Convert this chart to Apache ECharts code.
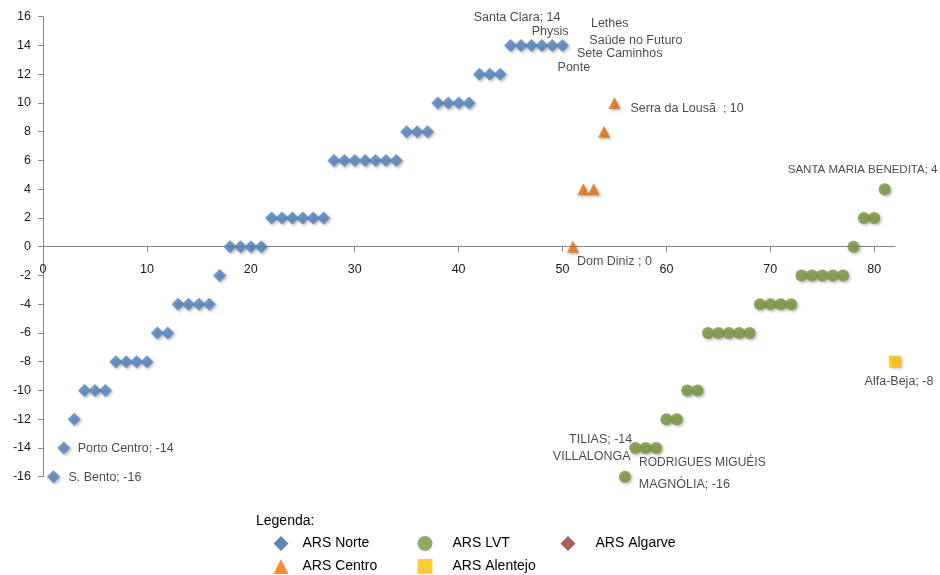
<!DOCTYPE html>
<html>
<head>
<meta charset="utf-8">
<script src="https://cdn.jsdelivr.net/npm/echarts@6/dist/echarts.min.js"></script>
<style>
  html, body { margin: 0; padding: 0; background: #ffffff; }
  #chart { width: 940px; height: 575px; }
</style>
</head>
<body>
<div id="chart"></div>
<script>
// ---- data: rank (x) and score (y) per ARS ----
const norteRank = [1,2,3,4,5,6,7,8,9,10,11,12,13,14,15,16,17,18,19,20,21,22,23,24,25,26,27,28,29,30,31,32,33,34,35,36,37,38,39,40,41,42,43,44,45,46,47,48,49,50];
const norteValues = [-16,-14,-12,-10,-10,-10,-8,-8,-8,-8,-6,-6,-4,-4,-4,-4,-2,0,0,0,0,2,2,2,2,2,2,6,6,6,6,6,6,6,8,8,8,10,10,10,10,12,12,12,14,14,14,14,14,14];

const centroRank = [51,52,53,54,55];
const centroValues = [0,4,4,8,10];

const lvtRank = [56,57,58,59,60,61,62,63,64,65,66,67,68,69,70,71,72,73,74,75,76,77,78,79,80,81];
const lvtValues = [-16,-14,-14,-14,-12,-12,-10,-10,-6,-6,-6,-6,-6,-4,-4,-4,-4,-2,-2,-2,-2,-2,0,2,2,4];

const alentejoRank = [82];
const alentejoValues = [-8];

const algarveRank = [];
const algarveValues = [];

const seriesNames = ['ARS Norte', 'ARS LVT', 'ARS Algarve', 'ARS Centro', 'ARS Alentejo'];

const xTicks = [0,10,20,30,40,50,60,70,80];
const yTicks = [-16,-14,-12,-10,-8,-6,-4,-2,0,2,4,6,8,10,12,14,16];

// named units shown next to their marks: [series, rank, text]
const unitLabels = [
  ['ARS Norte', 1, 'S. Bento; -16'],
  ['ARS Norte', 2, 'Porto Centro; -14'],
  ['ARS Norte', 45, 'Ponte'],
  ['ARS Norte', 46, 'Sete Caminhos'],
  ['ARS Norte', 47, 'Saúde no Futuro'],
  ['ARS Norte', 48, 'Lethes'],
  ['ARS Norte', 49, 'Physis'],
  ['ARS Norte', 50, 'Santa Clara; 14'],
  ['ARS Centro', 51, 'Dom Diniz ; 0'],
  ['ARS Centro', 55, 'Serra da Lousã  ; 10'],
  ['ARS LVT', 56, 'MAGNÓLIA; -16'],
  ['ARS LVT', 57, 'TILIAS; -14'],
  ['ARS LVT', 58, 'VILLALONGA'],
  ['ARS LVT', 59, 'RODRIGUES MIGUÉIS'],
  ['ARS LVT', 81, 'SANTA MARIA BENEDITA; 4'],
  ['ARS Alentejo', 82, 'Alfa-Beja; -8']
];

// ---- styling ----
const FONT = "'Liberation Sans', Arial, sans-serif";
const TEXT = '#1a1a1a';

// label placement relative to the mark centre: [align, dx, dy, fontSize]
const labelPlacement = {
  'S. Bento; -16': ['left', 15, 1, 12.5],
  'Porto Centro; -14': ['left', 14, 1, 12.5],
  'Ponte': ['left', 47, 22, 12.5],
  'Sete Caminhos': ['left', 56, 8, 12.5],
  'Saúde no Futuro': ['left', 58, -5, 12.5],
  'Lethes': ['center', 68, -22, 12.5],
  'Physis': ['center', -2, -14, 12.5],
  'Santa Clara; 14': ['right', -2, -28, 12.5],
  'Dom Diniz ; 0': ['left', 4, 15, 12.5],
  'Serra da Lousã  ; 10': ['left', 16, 6, 12.5],
  'MAGNÓLIA; -16': ['left', 14, 8, 12.5],
  'TILIAS; -14': ['right', -3, -8, 12.5],
  'VILLALONGA': ['right', -15, 9, 12.5],
  'RODRIGUES MIGUÉIS': ['left', -17, 15, 12],
  'SANTA MARIA BENEDITA; 4': ['center', -22, -19, 11.5],
  'Alfa-Beja; -8': ['center', 4, 20, 12.5]
};

const markStyle = {
  'ARS Norte':    { symbol: 'diamond',  size: 13, color: '#4F81BD', legend: '#3C679E' },
  'ARS LVT':      { symbol: 'circle',   size: 12, color: '#77933C', legend: '#77933C' },
  'ARS Algarve':  { symbol: 'diamond',  size: 13, color: '#953735', legend: '#953735' },
  'ARS Centro':   { symbol: 'triangle', size: 12, color: '#E46C0A', legend: '#FF6A0A' },
  'ARS Alentejo': { symbol: 'rect',     size: 12, color: '#FFC000', legend: '#FFC000' }
};

const seriesData = {
  'ARS Norte': [norteRank, norteValues],
  'ARS LVT': [lvtRank, lvtValues],
  'ARS Algarve': [algarveRank, algarveValues],
  'ARS Centro': [centroRank, centroValues],
  'ARS Alentejo': [alentejoRank, alentejoValues]
};

function buildData(name) {
  const [ranks, values] = seriesData[name];
  const half = markStyle[name].size / 2;
  return ranks.map((r, i) => {
    const found = unitLabels.find(l => l[0] === name && l[1] === r);
    if (!found) return [r, values[i]];
    const p = labelPlacement[found[2]];
    return {
      value: [r, values[i]],
      label: {
        show: true,
        formatter: found[2],
        // position is measured from the symbol's top-left corner
        position: [half + p[1], half + p[2]],
        align: p[0],
        verticalAlign: 'middle',
        color: TEXT,
        fontFamily: FONT,
        fontSize: p[3]
      }
    };
  });
}

const series = seriesNames.map(name => ({
  name: name,
  type: 'scatter',
  symbol: markStyle[name].symbol,
  symbolSize: markStyle[name].size,
  itemStyle: {
    color: markStyle[name].color,
    shadowBlur: 3,
    shadowOffsetX: 1.5,
    shadowOffsetY: 1.5,
    shadowColor: 'rgba(0,0,0,0.35)'
  },
  emphasis: { disabled: true },
  labelLayout: { hideOverlap: false },
  data: buildData(name)
}));

// one vertical legend per column
function legendColumn(names, left, textPad) {
  return {
    orient: 'vertical',
    left: left,
    top: 536,
    padding: 0,
    itemWidth: 15,
    itemHeight: 15,
    itemGap: 8,
    selectedMode: false,
    textStyle: { fontFamily: FONT, fontSize: 14, color: '#000000', lineHeight: 15, padding: [0, 0, 0, textPad] },
    data: names.map(n => ({
      name: n,
      icon: markStyle[n].symbol,
      itemStyle: { color: markStyle[n].legend, shadowBlur: 0, shadowOffsetX: 0, shadowOffsetY: 0 }
    }))
  };
}

const chart = echarts.init(document.getElementById('chart'), null, { renderer: 'canvas' });
chart.setOption({
  animation: false,
  backgroundColor: '#ffffff',
  title: {
    text: 'Legenda:',
    left: 256,
    top: 514,
    padding: 0,
    textStyle: { fontFamily: FONT, fontSize: 14, fontWeight: 'normal', color: '#000000' }
  },
  legend: [
    legendColumn(['ARS Norte', 'ARS Centro'], 273.5, 9),
    legendColumn(['ARS LVT', 'ARS Alentejo'], 417.5, 15),
    legendColumn(['ARS Algarve'], 560.5, 15)
  ],
  grid: { left: 43, right: 45, top: 16.7, bottom: 98.3, containLabel: false },
  xAxis: {
    type: 'value',
    min: 0,
    max: 82,
    interval: 10,
    axisLine: { onZero: true, lineStyle: { color: '#868686', width: 1 } },
    axisTick: { show: true, length: 5, lineStyle: { color: '#868686' }, customValues: xTicks },
    // labels sit just below the zero line
    axisLabel: { customValues: xTicks, margin: -214, color: TEXT, fontFamily: FONT, fontSize: 12.5 },
    splitLine: { show: false }
  },
  yAxis: {
    type: 'value',
    min: -16,
    max: 16,
    interval: 2,
    axisLine: { show: true, onZero: false, lineStyle: { color: '#868686', width: 1 } },
    axisTick: { show: true, length: 5, lineStyle: { color: '#868686' }, customValues: yTicks },
    axisLabel: { customValues: yTicks, margin: 12, color: TEXT, fontFamily: FONT, fontSize: 12.5 },
    splitLine: { show: false }
  },
  series: series
});
</script>
</body>
</html>
